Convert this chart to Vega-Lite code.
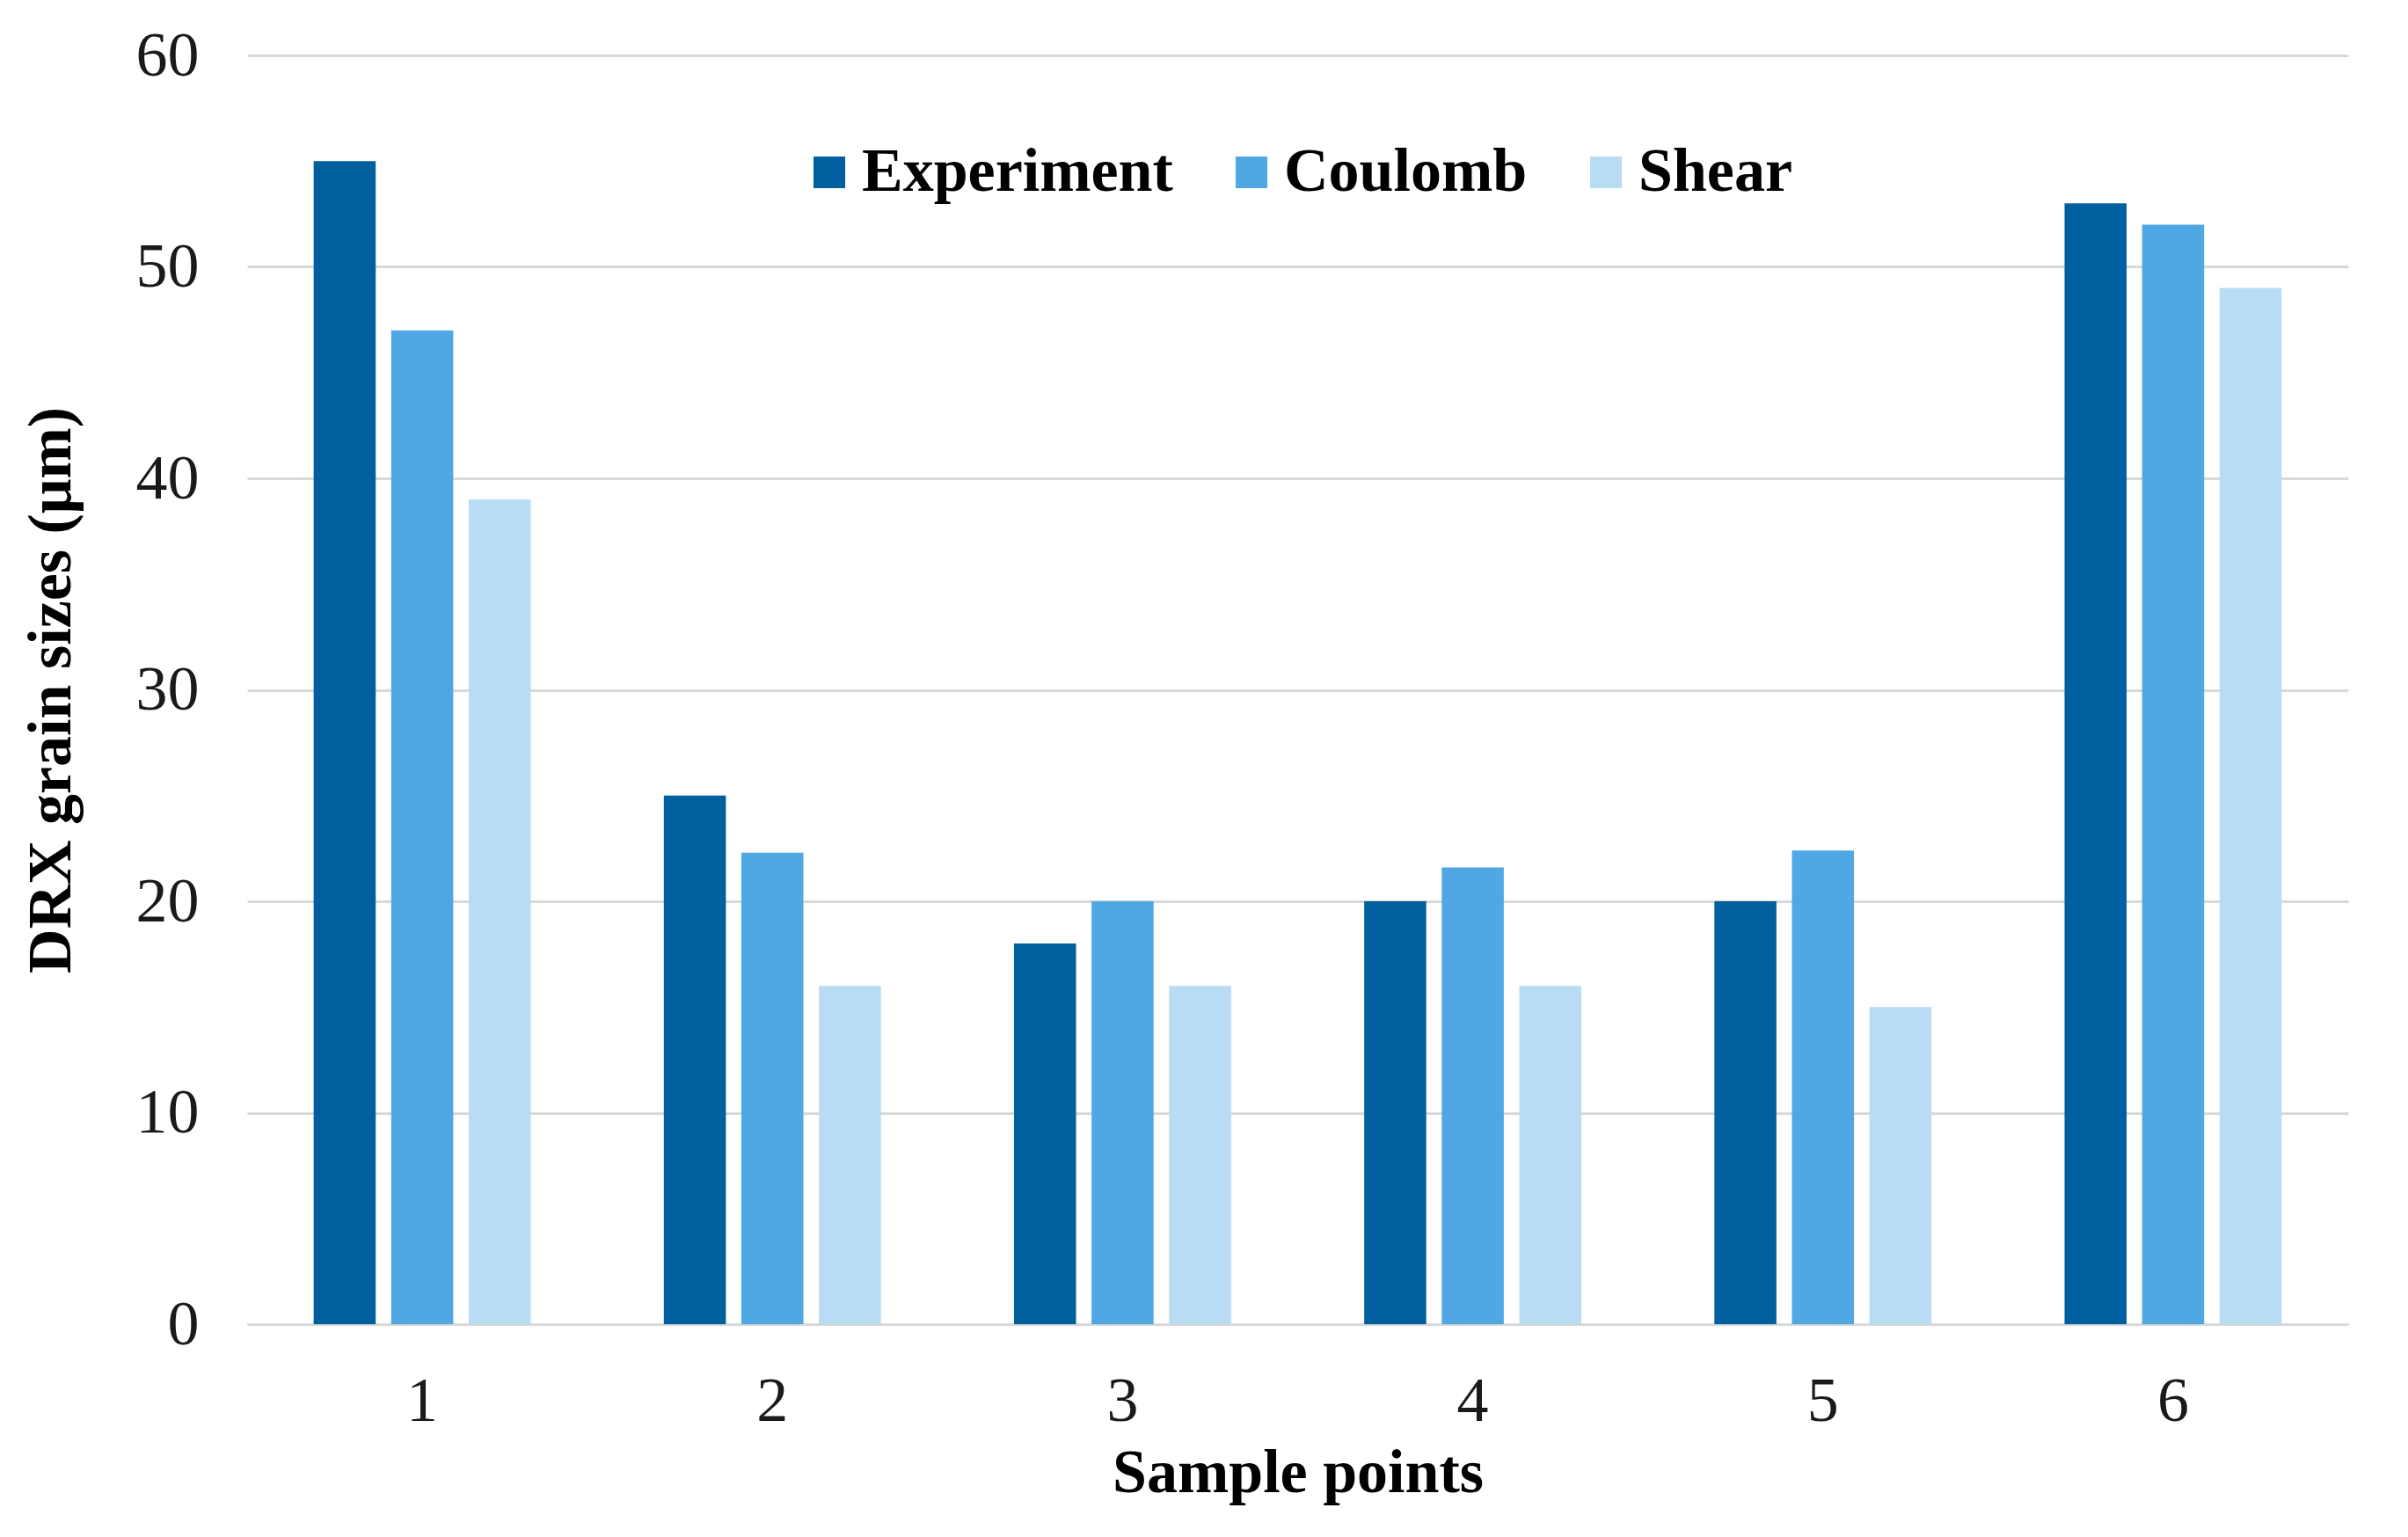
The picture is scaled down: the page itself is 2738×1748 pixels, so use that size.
{
  "$schema": "https://vega.github.io/schema/vega-lite/v6.json",
  "width": 2389,
  "height": 1443,
  "autosize": "none",
  "padding": {"left": 281, "top": 63, "right": 68, "bottom": 242},
  "background": "white",
  "data": {
    "values": [
      {"point": "1", "series": "Experiment", "size": 55},
      {"point": "1", "series": "Coulomb", "size": 47},
      {"point": "1", "series": "Shear", "size": 39},
      {"point": "2", "series": "Experiment", "size": 25},
      {"point": "2", "series": "Coulomb", "size": 22.3},
      {"point": "2", "series": "Shear", "size": 16},
      {"point": "3", "series": "Experiment", "size": 18},
      {"point": "3", "series": "Coulomb", "size": 20},
      {"point": "3", "series": "Shear", "size": 16},
      {"point": "4", "series": "Experiment", "size": 20},
      {"point": "4", "series": "Coulomb", "size": 21.6},
      {"point": "4", "series": "Shear", "size": 16},
      {"point": "5", "series": "Experiment", "size": 20},
      {"point": "5", "series": "Coulomb", "size": 22.4},
      {"point": "5", "series": "Shear", "size": 15},
      {"point": "6", "series": "Experiment", "size": 53},
      {"point": "6", "series": "Coulomb", "size": 52},
      {"point": "6", "series": "Shear", "size": 49}
    ]
  },
  "mark": {"type": "bar", "strokeWidth": 0},
  "encoding": {
    "x": {
      "field": "point",
      "type": "nominal",
      "title": "Sample points",
      "scale": {"paddingInner": 0.38, "paddingOuter": 0.19},
      "axis": {
        "labelAngle": 0,
        "labelFontSize": 72,
        "labelPadding": 52,
        "labelColor": "#1a1a1a",
        "ticks": false,
        "domainColor": "#d9d9d9",
        "domainWidth": 3,
        "titleFontSize": 70,
        "titleFontWeight": "bold",
        "titleColor": "black",
        "titlePadding": 12
      }
    },
    "xOffset": {
      "field": "series",
      "type": "nominal",
      "sort": ["Experiment", "Coulomb", "Shear"],
      "scale": {"paddingInner": 0.2, "paddingOuter": 0}
    },
    "y": {
      "field": "size",
      "type": "quantitative",
      "title": "DRX grain sizes (μm)",
      "scale": {"domain": [0, 60]},
      "axis": {
        "values": [0, 10, 20, 30, 40, 50, 60],
        "labelFontSize": 72,
        "labelPadding": 55,
        "labelColor": "#1a1a1a",
        "ticks": false,
        "domain": false,
        "gridColor": "#d9d9d9",
        "gridWidth": 3,
        "titleFontSize": 70,
        "titleFontWeight": "bold",
        "titleColor": "black",
        "titlePadding": 60
      }
    },
    "color": {
      "field": "series",
      "type": "nominal",
      "sort": ["Experiment", "Coulomb", "Shear"],
      "scale": {
        "domain": ["Experiment", "Coulomb", "Shear"],
        "range": ["#005f9e", "#4fa8e4", "#b8dcf4"]
      },
      "legend": {
        "title": null,
        "orient": "none",
        "direction": "horizontal",
        "legendX": 627,
        "legendY": 98,
        "padding": 0,
        "symbolType": "square",
        "symbolSize": 1300,
        "symbolStrokeWidth": 0,
        "labelFontSize": 70,
        "labelFontWeight": "bold",
        "labelColor": "black",
        "labelLimit": 0,
        "labelOffset": 2,
        "columnPadding": 54
      }
    }
  },
  "config": {
    "view": {"stroke": null},
    "font": "Liberation Serif"
  }
}
